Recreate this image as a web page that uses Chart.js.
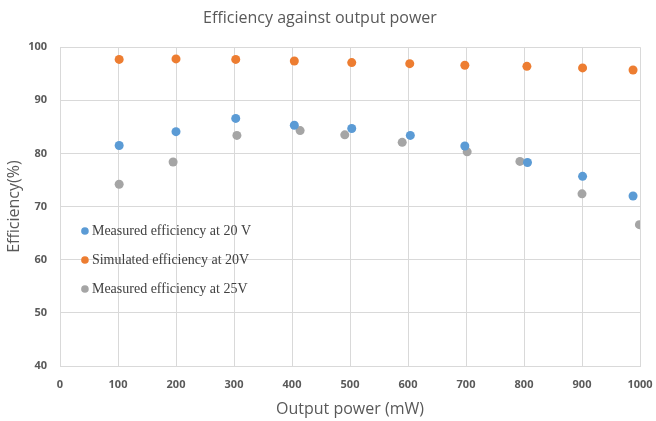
<!DOCTYPE html>
<html><head><meta charset="utf-8">
<script src="https://cdn.jsdelivr.net/npm/chart.js@4/dist/chart.umd.min.js"></script>
<style>html,body{margin:0;padding:0;background:#fff}#wrap{width:656px;height:421px}</style>
</head><body><div id="wrap"><canvas id="c" width="656" height="421"></canvas></div>
<script>
const seriesNames = ["Measured efficiency at 20 V", "Simulated efficiency at 20V", "Measured efficiency at 25V"];
const seriesColors = ["#5b9bd5", "#ed7d31", "#a5a5a5"];
const measured20X = [102, 200, 303, 404, 503, 604, 698, 806, 901, 988];
const measured20Y = [81.5, 84.1, 86.6, 85.3, 84.7, 83.4, 81.4, 78.3, 75.7, 72.0];
const simulated20X = [102, 200, 303, 404, 503, 603, 698, 805, 901, 988];
const simulated20Y = [97.7, 97.8, 97.7, 97.4, 97.1, 96.9, 96.6, 96.4, 96.1, 95.7];
const measured25X = [102, 195, 305, 414, 491, 590, 702, 793, 900, 999];
const measured25Y = [74.2, 78.4, 83.4, 84.3, 83.5, 82.1, 80.3, 78.5, 72.4, 66.6];
const xTicks = [0, 100, 200, 300, 400, 500, 600, 700, 800, 900, 1000];
const yTicks = [40, 50, 60, 70, 80, 90, 100];

function pts(xs, ys) { return xs.map((x, i) => ({x: x, y: ys[i]})); }

const legendPlugin = {
  id: 'innerLegend',
  afterDatasetsDraw(chart) {
    const ctx = chart.ctx;
    const x0 = chart.scales.x.getPixelForValue(43);
    const yStart = chart.scales.y.getPixelForValue(65.4);
    ctx.save();
    ctx.font = '14px "Liberation Serif", "Times New Roman", serif';
    ctx.textBaseline = 'middle';
    chart.data.datasets.forEach((ds, i) => {
      const y = yStart + i * 29;
      ctx.fillStyle = ds.backgroundColor;
      ctx.beginPath(); ctx.arc(x0, y, 3.8, 0, Math.PI * 2); ctx.fill();
      ctx.fillStyle = '#404040';
      ctx.textAlign = 'left';
      ctx.fillText(ds.label, x0 + 7, y);
    });
    ctx.restore();
  }
};

const datasets = [
  {label: seriesNames[0], data: pts(measured20X, measured20Y)},
  {label: seriesNames[1], data: pts(simulated20X, simulated20Y)},
  {label: seriesNames[2], data: pts(measured25X, measured25Y)}
].map((d, i) => Object.assign(d, {
  backgroundColor: seriesColors[i], borderColor: seriesColors[i],
  pointRadius: 4.5, pointHoverRadius: 4.5, borderWidth: 0, showLine: false
}));

new Chart(document.getElementById('c'), {
  type: 'scatter',
  data: {datasets: datasets},
  plugins: [legendPlugin],
  options: {
    responsive: false, animation: false,
    layout: {padding: {left: 0, right: 16, top: 8, bottom: 0}},
    plugins: {
      legend: {display: false},
      tooltip: {enabled: false},
      title: {display: true, text: 'Efficiency against output power', color: '#595959',
        font: {family: '"Open Sans"', size: 16, weight: 'normal'}, padding: {top: 1, bottom: 19}}
    },
    scales: {
      x: {
        type: 'linear', min: 0, max: 1000,
        afterBuildTicks(s) { s.ticks = xTicks.map(v => ({value: v})); },
        afterFit(s) { s.height = 55; s.paddingRight = 0; s.paddingLeft = 0; },
        grid: {color: '#d9d9d9', drawTicks: false},
        border: {color: '#d9d9d9'},
        ticks: {color: '#595959', padding: 12, maxRotation: 0, autoSkip: false,
          callback: v => String(v),
          font: {family: '"Open Sans"', size: 11, weight: 'bold'}},
        title: {display: true, text: 'Output power (mW)', color: '#595959',
          font: {family: '"Open Sans"', size: 16}, padding: {top: 0, bottom: 2}}
      },
      y: {
        type: 'linear', min: 40, max: 100,
        afterBuildTicks(s) { s.ticks = yTicks.map(v => ({value: v})); },
        afterFit(s) { s.width = 60; },
        grid: {color: '#d9d9d9', drawTicks: false},
        border: {display: false},
        ticks: {color: '#595959', padding: 13, callback: v => String(v),
          font: {family: '"Open Sans"', size: 11, weight: 'bold'}},
        title: {display: true, text: 'Efficiency(%)', color: '#595959',
          font: {family: '"Open Sans"', size: 16}, padding: {top: 5, bottom: 0}}
      }
    }
  }
});
</script></body></html>
